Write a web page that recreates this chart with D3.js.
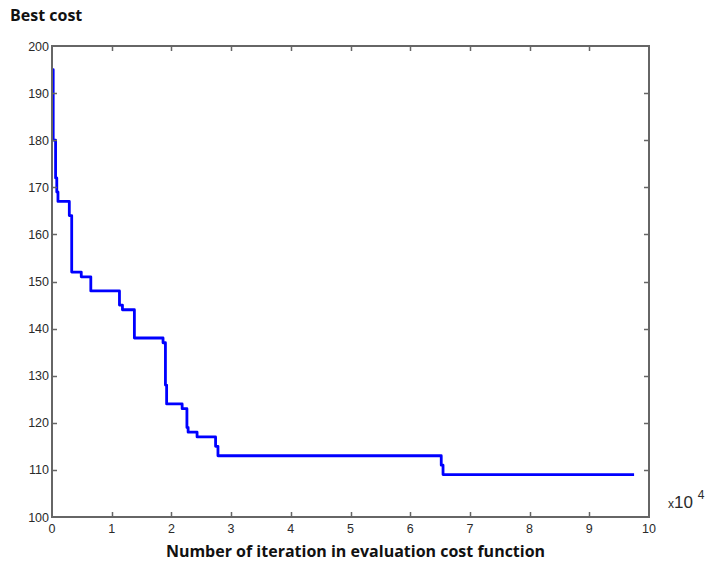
<!DOCTYPE html>
<html><head><meta charset="utf-8">
<script src="https://cdn.jsdelivr.net/npm/d3@7/dist/d3.min.js"></script>
<style>body{margin:0;background:#fff}svg{display:block}</style>
</head><body>
<svg id="c" width="712" height="563"></svg>
<script>
// step-curve data: iteration (x 10^4) and best cost
const iterations = [0, 0.02, 0.06, 0.08, 0.10, 0.29, 0.33, 0.49, 0.65, 1.13, 1.18, 1.38, 1.86, 1.90, 1.92, 2.18, 2.26, 2.28, 2.43, 2.74, 2.78, 6.52, 6.55, 9.75];
const bestCost   = [195, 180, 172, 169, 167, 164, 152, 151, 148, 145, 144, 138, 137, 128, 124, 123, 119, 118, 117, 115, 113, 111, 109, 109];
const xTicks = [0,1,2,3,4,5,6,7,8,9,10];
const yTicks = [100,110,120,130,140,150,160,170,180,190,200];

const svg = d3.select("#c");
const L = 52, R = 649, T = 46, B = 517;
const x = d3.scaleLinear().domain([0,10]).range([L,R]);
const y = d3.scaleLinear().domain([100,200]).range([B,T]);
const axisCol = "#666", txtCol = "#2a2a2a";
const tickFont = "Liberation Sans, Arial, sans-serif";

const data = iterations.map((v,i)=>[v,bestCost[i]]);
const line = d3.line().x(d=>x(d[0])).y(d=>y(d[1])).curve(d3.curveStepAfter);
svg.append("path").attr("d", line(data)).attr("fill","none").attr("stroke","#0000ff").attr("stroke-width",2.8).attr("stroke-linejoin","round");

// box
svg.append("rect").attr("x",L).attr("y",T).attr("width",R-L).attr("height",B-T)
  .attr("fill","none").attr("stroke",axisCol).attr("stroke-width",2);

const tl = 5;
const g = svg.append("g");
xTicks.forEach(t=>{
  const px = Math.round(x(t))+0.5;
  if (t>0 && t<10) {
    g.append("line").attr("x1",px).attr("x2",px).attr("y1",B).attr("y2",B-tl).attr("stroke",axisCol).attr("stroke-width",1.5);
    g.append("line").attr("x1",px).attr("x2",px).attr("y1",T).attr("y2",T+tl).attr("stroke",axisCol).attr("stroke-width",1.5);
  }
  g.append("text").attr("x",x(t)).attr("y",B+16).attr("text-anchor","middle")
    .attr("font-family",tickFont).attr("font-size",12.5).attr("fill",txtCol).text(t);
});
yTicks.forEach(t=>{
  const py = Math.round(y(t))+0.5;
  if (t>100 && t<200) {
    g.append("line").attr("x1",L).attr("x2",L+tl).attr("y1",py).attr("y2",py).attr("stroke",axisCol).attr("stroke-width",1.5);
    g.append("line").attr("x1",R).attr("x2",R-tl).attr("y1",py).attr("y2",py).attr("stroke",axisCol).attr("stroke-width",1.5);
  }
  g.append("text").attr("x",L-3).attr("y",y(t)+4.5).attr("text-anchor","end")
    .attr("font-family",tickFont).attr("font-size",12.5).attr("fill",txtCol).text(t);
});

// exponent
const ex = svg.append("text").attr("x",668).attr("y",508).attr("font-family",tickFont).attr("fill",txtCol);
ex.append("tspan").attr("font-size",12).text("x");
ex.append("tspan").attr("font-size",17).text("10 ");
ex.append("tspan").attr("font-size",12).attr("dy",-9).text("4");

svg.append("text").attr("x",10).attr("y",21).attr("font-family","Open Sans, sans-serif").attr("font-weight","bold")
  .attr("font-size",16).attr("fill","#111").text("Best cost");
svg.append("text").attr("x",(163+548)/2).attr("y",557).attr("text-anchor","middle").attr("font-family","Open Sans, sans-serif").attr("font-weight","bold")
  .attr("font-size",16).attr("fill","#111").text("Number of iteration in evaluation cost function");
</script>
</body></html>
